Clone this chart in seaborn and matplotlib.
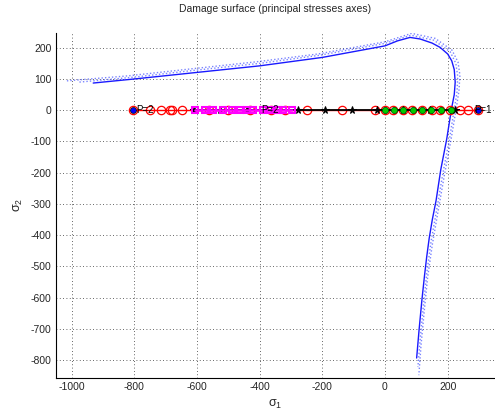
import numpy as np
import pandas as pd
import matplotlib
matplotlib.use("Agg")
import matplotlib.pyplot as plt
import seaborn as sns

# Damage surface (solid) and two dotted outer surfaces
surf_s1 = [-931, -800, -600, -400, -200, 0, 40, 80, 112, 150, 176, 200, 213, 221, 224, 221, 213, 197, 178, 163, 151, 141, 133, 126, 118, 109, 101]
surf_s2 = [87, 100, 121, 142, 169, 206, 222, 233, 228, 215, 201, 180, 158, 130, 90, 50, 9, -92, -190, -289, -350, -410, -470, -530, -605, -700, -793]
dot1_s1 = [-975, -800, -624, -400, -208, 0, 83, 156, 208, 226, 232, 230, 222, 205, 185, 168, 147, 133, 122, 112, 105]
dot1_s2 = [90, 106, 126, 150, 176, 214, 240, 224, 187, 150, 109, 60, 9, -96, -200, -301, -420, -523, -630, -735, -822]
dot2_s1 = [-1015, -820, -640, -410, -214, 0, 85, 160, 214, 233, 239, 236, 228, 210, 190, 172, 151, 136, 125, 115, 108]
dot2_s2 = [94, 110, 130, 155, 180, 219, 246, 230, 192, 154, 112, 62, 10, -98, -205, -308, -430, -535, -645, -752, -848]

# Load path points on sigma2 = 0
red_s1 = [-803, -750, -716, -686, -680, -648, -560, -500, -430, -365, -320, -250, -138,
          -32, 0, 26, 57, 86, 118, 150, 176, 207, 239, 265, 297]
black_s1 = [-610, -525, -440, -360, -277, -191, -105, -26, 57, 144, 222]
magenta_s1 = [-606, -574, -549, -517, -488, -463, -440, -421, -389, -367, -342, -326, -297]
green_s1 = [0, 30, 57, 88, 118, 147, 178, 210]
blue_s1 = [-803, 297]
labels = ["P=2", "P=2", "P=1"]
label_s1 = [-795, -395, 285]

sns.set_style("white")
plt.rcParams['font.family'] = ['Liberation Sans', 'DejaVu Sans']
plt.rcParams['axes.unicode_minus'] = False
plt.rcParams['mathtext.default'] = 'regular'

fig = plt.figure(figsize=(4.95, 4.18), dpi=100)
ax = fig.add_axes([0.113, 0.0957, 0.887, 0.826])

def zeros(a):
    return [0] * len(a)

sns.lineplot(x=dot2_s1, y=dot2_s2, sort=False, estimator=None, ax=ax,
             color='#2233ff', lw=1.0, linestyle=(0, (1, 1.5)), alpha=0.6)
sns.lineplot(x=dot1_s1, y=dot1_s2, sort=False, estimator=None, ax=ax,
             color='#2233ff', lw=1.0, linestyle=(0, (1, 1.5)), alpha=0.6)
sns.lineplot(x=surf_s1, y=surf_s2, sort=False, estimator=None, ax=ax,
             color='#1a1aff', lw=1.0)

sns.lineplot(x=red_s1, y=zeros(red_s1), sort=False, estimator=None, ax=ax,
             color='red', lw=1.0, marker='o', markersize=6,
             markerfacecolor='none', markeredgecolor='red', markeredgewidth=0.9)
sns.lineplot(x=black_s1, y=zeros(black_s1), sort=False, estimator=None, ax=ax,
             color='black', lw=1.3, marker='*', markersize=5.5,
             markerfacecolor='black', markeredgecolor='black')
sns.lineplot(x=magenta_s1, y=zeros(magenta_s1), sort=False, estimator=None, ax=ax,
             color='magenta', lw=1.8, marker='s', markersize=5,
             markerfacecolor='none', markeredgecolor='magenta', markeredgewidth=1.5)
sns.scatterplot(x=green_s1, y=zeros(green_s1), ax=ax, color='#00cc00',
                edgecolor='#005500', s=20, linewidth=0.6, zorder=5)
sns.scatterplot(x=blue_s1, y=zeros(blue_s1), ax=ax, color='blue',
                edgecolor='black', s=18, linewidth=0.5, zorder=6)
for t, x in zip(labels, label_s1):
    ax.text(x, 0, t, fontsize=7, color='black', va='center', ha='left', zorder=7)

ax.set_xlim(-1050, 351)
ax.set_ylim(-857, 248)
ax.set_xticks(np.arange(-1000, 201, 200))
ax.set_yticks(np.arange(-800, 201, 100))
ax.tick_params(direction='in', length=3, width=0.6, labelsize=7.5, pad=3)
ax.grid(True, linestyle=(0, (1, 3)), color='black', lw=0.6, alpha=0.8)
for s in ['top', 'right']:
    ax.spines[s].set_visible(False)
for s in ['left', 'bottom']:
    ax.spines[s].set_color('black')
    ax.spines[s].set_linewidth(0.8)

ax.set_title('Damage surface (principal stresses axes)', fontsize=7.5, pad=15)
ax.set_xlabel(r'$\sigma_1$', fontsize=9, labelpad=4)
ax.set_ylabel(r'$\sigma_2$', fontsize=9, labelpad=4)

fig.savefig('out.png', dpi=100)
